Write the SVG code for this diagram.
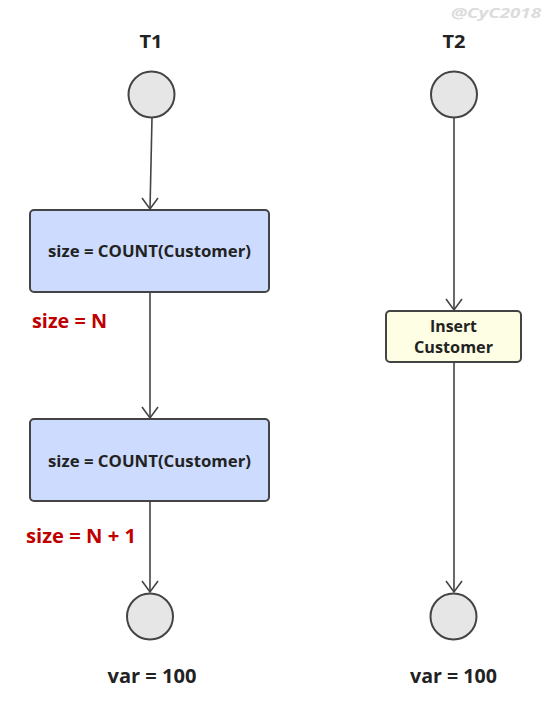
<svg xmlns="http://www.w3.org/2000/svg" width="547" height="718" viewBox="0 0 547 718">
<style>
.t{font-family:"Open Sans","Noto Sans","Liberation Sans",sans-serif;font-weight:bold;fill:#222;text-anchor:middle}
.red{fill:#c00000;text-anchor:start}
.circ{fill:#e6e6e6;stroke:#444;stroke-width:2}
.box{stroke:#444;stroke-width:2}
.ln{stroke:#444;stroke-width:1.6;fill:none}
</style>
<defs>
<marker id="v" viewBox="-10 -12 20 14" refX="0" refY="0" markerWidth="20" markerHeight="14" markerUnits="userSpaceOnUse" orient="0">
<path d="M-8,-11 L0,0 L8,-11" fill="none" stroke="#444" stroke-width="1.6"/>
</marker>
</defs>
<rect width="547" height="718" fill="#fff"/>
<text x="496" y="18" font-family="Open Sans,Liberation Sans,sans-serif" font-size="15" font-style="italic" font-weight="bold" fill="#dcdcdc" text-anchor="middle" textLength="90" lengthAdjust="spacingAndGlyphs">@CyC2018</text>
<g id="labels">
<text class="t" x="151" y="48" font-size="18" textLength="23" lengthAdjust="spacingAndGlyphs">T1</text>
<text class="t" x="454" y="48" font-size="18" textLength="23" lengthAdjust="spacingAndGlyphs">T2</text>
</g>
<g id="connectors">
<line class="ln" x1="152" y1="118" x2="150" y2="209" marker-end="url(#v)"/>
<line class="ln" x1="150" y1="293" x2="150" y2="418" marker-end="url(#v)"/>
<line class="ln" x1="150" y1="502" x2="150" y2="592" marker-end="url(#v)"/>
<line class="ln" x1="454" y1="118" x2="454" y2="310" marker-end="url(#v)"/>
<line class="ln" x1="454" y1="363" x2="454" y2="592" marker-end="url(#v)"/>
</g>
<g id="t1-start"><circle class="circ" cx="151.5" cy="94.5" r="23"/></g>
<g id="t2-start"><circle class="circ" cx="454" cy="94.5" r="23"/></g>
<g id="count1">
<rect class="box" x="30" y="210" width="239" height="82" rx="4" fill="#cddcfe"/>
<text class="t" x="149.5" y="257" font-size="15.5" textLength="203" lengthAdjust="spacingAndGlyphs">size = COUNT(Customer)</text>
</g>
<g id="size-n"><text class="t red" x="32" y="328" font-size="19" textLength="75" lengthAdjust="spacingAndGlyphs">size = N</text></g>
<g id="insert">
<rect class="box" x="386" y="311" width="135" height="51" rx="4" fill="#fefee4"/>
<text class="t" x="453.5" y="332" font-size="15.5" textLength="47" lengthAdjust="spacingAndGlyphs">Insert</text>
<text class="t" x="453.5" y="353" font-size="15.5" textLength="79" lengthAdjust="spacingAndGlyphs">Customer</text>
</g>
<g id="count2">
<rect class="box" x="30" y="419" width="239" height="82" rx="4" fill="#cddcfe"/>
<text class="t" x="149.5" y="467" font-size="15.5" textLength="203" lengthAdjust="spacingAndGlyphs">size = COUNT(Customer)</text>
</g>
<g id="size-n1"><text class="t red" x="26" y="543" font-size="19" textLength="110" lengthAdjust="spacingAndGlyphs">size = N + 1</text></g>
<g id="t1-end"><circle class="circ" cx="150" cy="616.5" r="23"/></g>
<g id="t2-end"><circle class="circ" cx="453.5" cy="616.5" r="23"/></g>
<g id="vars">
<text class="t" x="152" y="683" font-size="19" textLength="89" lengthAdjust="spacingAndGlyphs">var = 100</text>
<text class="t" x="453.5" y="683" font-size="19" textLength="87" lengthAdjust="spacingAndGlyphs">var = 100</text>
</g>
</svg>
